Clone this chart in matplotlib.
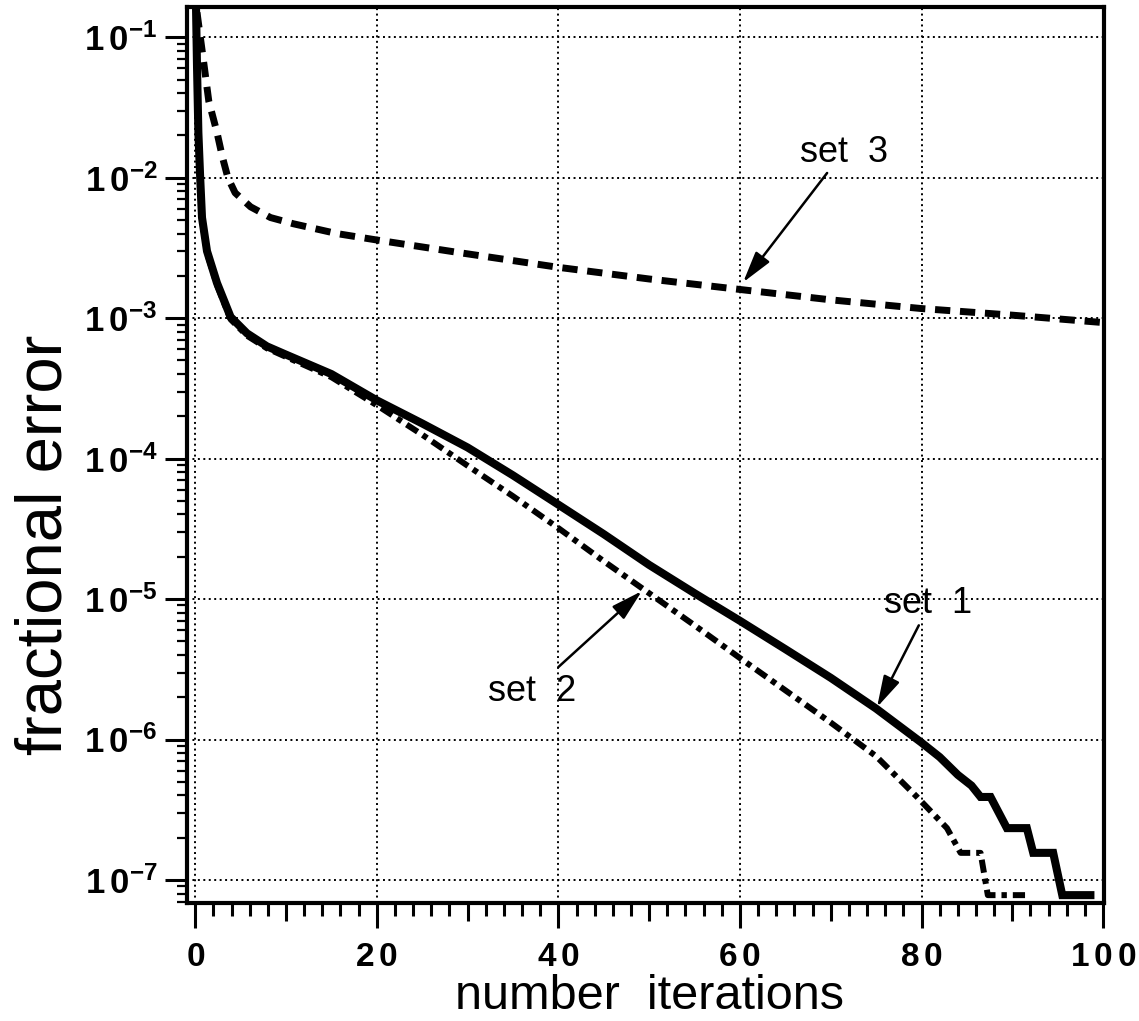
import matplotlib
matplotlib.use("Agg")
import matplotlib.pyplot as plt
from matplotlib.ticker import FixedLocator, LogLocator, NullFormatter

# values
set1_x = [0.1, 0.2, 0.35, 0.55, 0.75, 1.3, 2.4, 3.9, 5.7, 7.9, 10, 15, 20, 25, 30, 35,
          40, 45, 50, 55, 60, 65, 70, 75, 80, 82, 84, 85.5, 86.5, 87.6, 89.4, 91.6,
          92.3, 94.5, 95.5, 98.6]
set1_y = [1.5e-1, 6.2e-2, 2.1e-2, 1.0e-2, 5.2e-3, 3.0e-3, 1.78e-3, 1.02e-3, 7.8e-4,
          6.3e-4, 5.5e-4, 4.0e-4, 2.6e-4, 1.78e-4, 1.2e-4, 7.6e-5, 4.7e-5, 2.9e-5,
          1.75e-5, 1.1e-5, 7.0e-6, 4.4e-6, 2.75e-6, 1.66e-6, 9.5e-7, 7.5e-7, 5.6e-7,
          4.7e-7, 3.9e-7, 3.9e-7, 2.34e-7, 2.34e-7, 1.56e-7, 1.56e-7, 7.8e-8, 7.8e-8]

set2_x = [0.1, 0.2, 0.35, 0.55, 0.75, 1.3, 2.4, 3.9, 5.7, 7.9, 10, 15, 20, 25, 30, 35,
          40, 45, 50, 55, 60, 65, 70, 75, 79.5, 82.8, 84.3, 86.5, 87.3, 91.4]
set2_y = [1.5e-1, 6.0e-2, 2.0e-2, 9.5e-3, 5.0e-3, 2.9e-3, 1.72e-3, 9.8e-4, 7.5e-4,
          6.1e-4, 5.3e-4, 3.8e-4, 2.4e-4, 1.48e-4, 8.9e-5, 5.4e-5, 3.2e-5, 1.86e-5,
          1.1e-5, 6.5e-6, 3.8e-6, 2.24e-6, 1.32e-6, 7.6e-7, 3.9e-7, 2.34e-7, 1.56e-7,
          1.56e-7, 7.8e-8, 7.8e-8]

set3_x = [0.2, 0.9, 1.5, 2.4, 3.0, 3.6, 4.4, 6.1, 8.3, 10.8, 15.6, 20, 29.5, 40, 50,
          60, 70, 80, 90, 100]
set3_y = [1.5e-1, 6.9e-2, 3.5e-2, 2.1e-2, 1.4e-2, 1.0e-2, 7.8e-3, 6.2e-3, 5.2e-3,
          4.7e-3, 4.0e-3, 3.6e-3, 2.9e-3, 2.3e-3, 1.9e-3, 1.6e-3, 1.35e-3, 1.17e-3,
          1.05e-3, 9.3e-4]

x_major = [0, 20, 40, 60, 80, 100]
x_mid = [10, 30, 50, 70, 90]
x_minor = [v for v in range(2, 100, 2) if v % 10 != 0]
y_major = [1e-1, 1e-2, 1e-3, 1e-4, 1e-5, 1e-6, 1e-7]
y_labels = [r"$\mathbf{1\,0^{-%d}}$" % k for k in range(1, 8)]
x_labels = [r"$\mathbf{%s}$" % r"\,".join(str(v)) for v in x_major]

# (label, text position, arrow tail, arrow tip)
notes = [
    ("set  3", (71.5, 1.51e-2), (69.6, 1.08e-2), (60.35, 1.8e-3)),
    ("set  1", (80.7, 9.3e-6), (79.7, 6.5e-6), (75.1, 1.7e-6)),
    ("set  2", (37.1, 2.19e-6), (40.0, 3.28e-6), (49.2, 1.14e-5)),
]

font = "Liberation Sans"
plt.rcParams["font.family"] = [font, "DejaVu Sans"]
plt.rcParams["mathtext.fontset"] = "custom"
plt.rcParams["mathtext.rm"] = font
plt.rcParams["mathtext.bf"] = font + ":bold"

fig = plt.figure(figsize=(11.39, 10.21), dpi=100)
ax = fig.add_axes([0.1642, 0.1156, 0.8051, 0.8775])

ax.plot(set3_x, set3_y, color="black", lw=5, dashes=(2.2, 1.4))
ax.plot(set2_x, set2_y, color="black", lw=4.3, dashes=(2.2, 1.0, 0.9, 1.0))
ax.plot(set1_x, set1_y, color="black", lw=5.8, solid_joinstyle="miter")

ax.set_yscale("log")
ax.set_xlim(-0.9, 100.1)
ax.set_ylim(6.86e-8, 0.164)

ax.set_xticks(x_major)
ax.set_xticklabels(x_labels)
ax.xaxis.set_minor_locator(FixedLocator(x_minor))
ax.set_yticks(y_major)
ax.set_yticklabels(y_labels)
ax.yaxis.set_minor_locator(LogLocator(base=10, subs=range(2, 10), numticks=20))
ax.yaxis.set_minor_formatter(NullFormatter())

ax.tick_params(axis="x", which="major", direction="out", length=18, width=2.2,
               labelsize=24, pad=10)
ax.tick_params(axis="x", which="minor", direction="out", length=9.5, width=2.2)
ax.tick_params(axis="y", which="major", direction="out", length=16, width=2.2,
               labelsize=25, pad=5)
ax.tick_params(axis="y", which="minor", direction="out", length=7.5, width=1.6)

mid = ax.secondary_xaxis("bottom")
mid.set_xticks(x_mid)
mid.set_xticklabels([])
mid.tick_params(direction="out", length=13, width=2.2)
mid.spines["bottom"].set_visible(False)

for sp in ax.spines.values():
    sp.set_linewidth(3)

ax.grid(True, which="major", color="black", linestyle=(0, (1, 1.8)), linewidth=1.4)

for label, txt, tail, tip in notes:
    ax.text(txt[0], txt[1], label, fontsize=26, ha="center", va="center")
    ax.annotate("", xy=tip, xytext=tail,
                arrowprops=dict(arrowstyle="-|>,head_length=0.8,head_width=0.22",
                                color="black", lw=1.8, mutation_scale=24,
                                shrinkA=0, shrinkB=0))

ax.set_xlabel("number  iterations", fontsize=35)
ax.xaxis.set_label_coords(0.504, -0.0795)
ax.set_ylabel("fractional error", fontsize=47)
ax.yaxis.set_label_coords(-0.123, 0.40)

fig.savefig("out.png", dpi=100)
